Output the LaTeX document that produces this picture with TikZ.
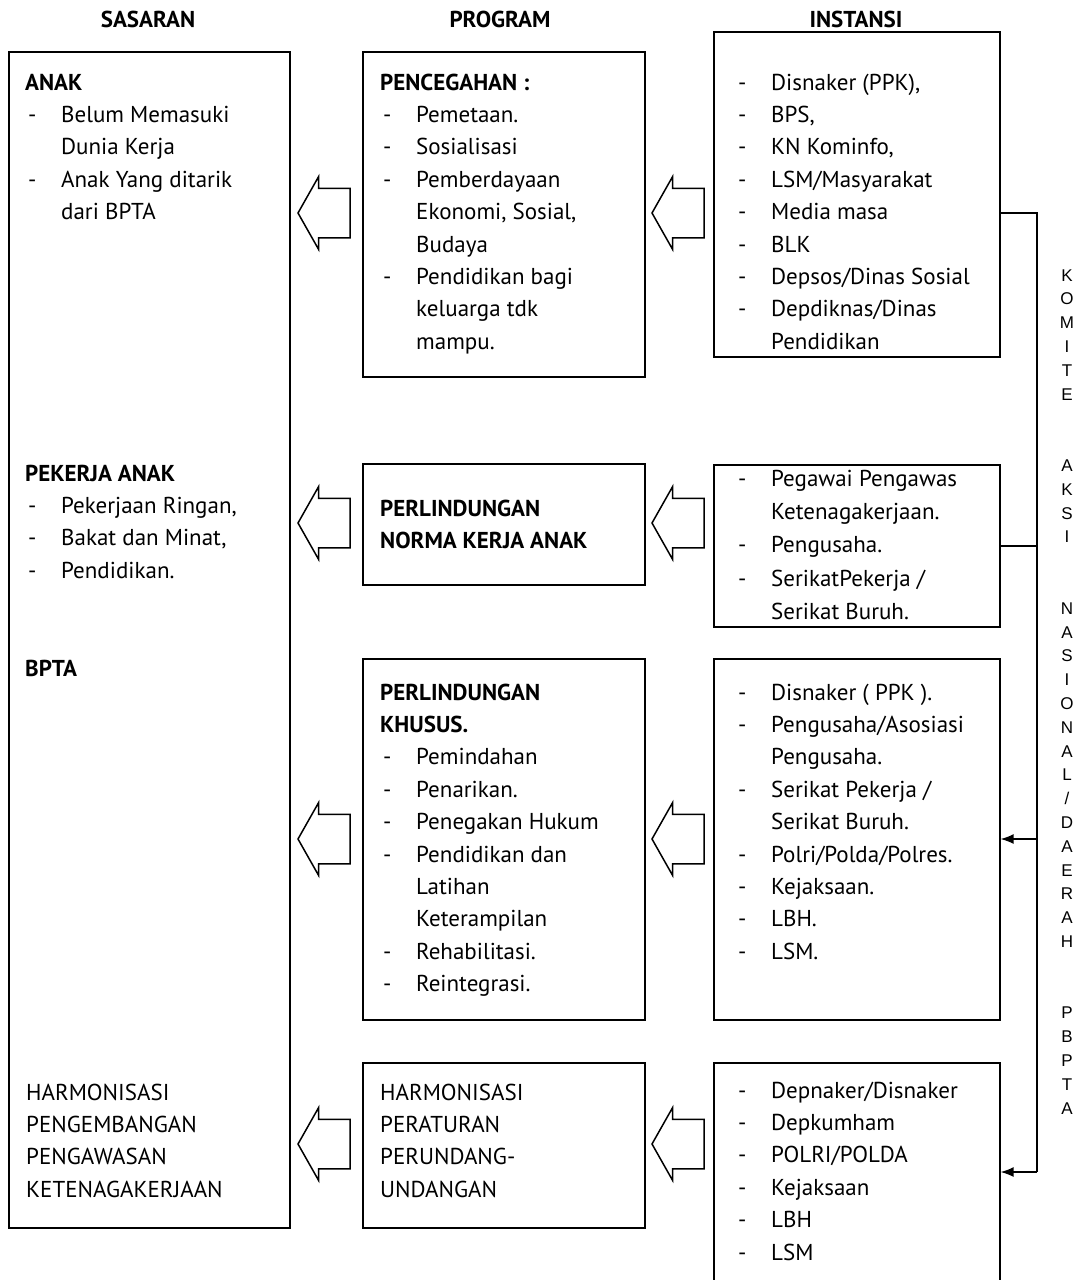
\documentclass[tikz,border=0pt]{standalone}
\usepackage{fontspec}
\setmainfont{PT Sans}
\newfontfamily\hurufarial{Liberation Sans}
\usepackage{tikz}
\usetikzlibrary{shapes}
\usetikzlibrary{shapes.arrows}
\usetikzlibrary{arrows.meta}
\newcommand{\hurufteks}{\fontsize{23}{32.4}\selectfont}
\newcommand{\butir}{\hspace*{3pt}\makebox[33pt][l]{-}}
\newcommand{\lanjut}{\hspace*{36pt}}
\tikzstyle{kotak}=[draw,line width=1.6pt,inner sep=0pt,anchor=north west]
\tikzstyle{teks}=[anchor=north west,inner sep=0pt,align=left,font=\hurufteks]
\tikzstyle{judul}=[anchor=base,inner sep=0pt,font=\hurufteks\bfseries]
\tikzstyle{blokpanah}=[draw,line width=1.5pt,single arrow,shape border rotate=180,
minimum height=52pt,inner xsep=0pt,inner ysep=24pt,single arrow head extend=11.5pt,
single arrow tip angle=121]
\tikzstyle{garis}=[line width=1.4pt]
\tikzstyle{panah}=[line width=1.4pt,-{Latex[length=13pt,width=10pt]}]

\begin{document}
\begin{tikzpicture}[x=1pt,y=-1pt]
\useasboundingbox (0,0) rectangle (1081,1280);
\node[judul] (judulsasaran) at (148,27) {SASARAN};
\node[judul] (judulprogram) at (500,27) {PROGRAM};
\node[judul] (judulinstansi) at (856,27) {INSTANSI};
%Kotak sasaran
\node[kotak,minimum width=281pt,minimum height=1176pt] (sasaran) at (8,51) {};
\node[teks] (anak) at (25,67.3) {\strut\textbf{ANAK}\\
\butir Belum Memasuki\\ \lanjut Dunia Kerja\\
\butir Anak Yang ditarik\\ \lanjut dari BPTA};
\node[teks] (pekerja) at (25,458.3) {\strut\textbf{PEKERJA ANAK}\\
\butir Pekerjaan Ringan,\\ \butir Bakat dan Minat,\\ \butir Pendidikan.};
\node[teks] (bpta) at (25,653.3) {\strut\textbf{BPTA}};
\node[teks] (harmonisasi) at (26,1077.3) {\strut HARMONISASI\\ PENGEMBANGAN\\
PENGAWASAN\\ KETENAGAKERJAAN};
%Kotak program
\node[kotak,minimum width=282pt,minimum height=325pt] (prog1) at (362,51) {};
\node[kotak,minimum width=282pt,minimum height=121pt] (prog2) at (362,463) {};
\node[kotak,minimum width=282pt,minimum height=361pt] (prog3) at (362,658) {};
\node[kotak,minimum width=282pt,minimum height=165pt] (prog4) at (362,1062) {};
\node[teks] (pencegahan) at (380,67.3) {\strut\textbf{PENCEGAHAN :}\\
\butir Pemetaan.\\ \butir Sosialisasi\\ \butir Pemberdayaan\\
\lanjut Ekonomi, Sosial,\\ \lanjut Budaya\\ \butir Pendidikan bagi\\
\lanjut keluarga tdk\\ \lanjut mampu.};
\node[teks] (norma) at (380,493.3) {\strut\textbf{PERLINDUNGAN}\\ \textbf{NORMA KERJA ANAK}};
\node[teks] (khusus) at (380,677.3) {\strut\textbf{PERLINDUNGAN}\\ \textbf{KHUSUS.}\\
\butir Pemindahan\\ \butir Penarikan.\\ \butir Penegakan Hukum\\
\butir Pendidikan dan\\ \lanjut Latihan\\ \lanjut Keterampilan\\
\butir Rehabilitasi.\\ \butir Reintegrasi.};
\node[teks] (peraturan) at (380,1077.3) {\strut HARMONISASI\\ PERATURAN\\
PERUNDANG-\\ UNDANGAN};
%Kotak instansi
\node[kotak,minimum width=286pt,minimum height=325pt] (inst1) at (713,31) {};
\node[kotak,minimum width=286pt,minimum height=162pt] (inst2) at (713,464) {};
\node[kotak,minimum width=286pt,minimum height=361pt] (inst3) at (713,658) {};
\node[kotak,minimum width=286pt,minimum height=240pt] (inst4) at (713,1062) {};
\node[teks] (daftar1) at (735,67.3) {\strut\butir Disnaker (PPK),\\ \butir BPS,\\
\butir KN Kominfo,\\ \butir LSM/Masyarakat\\ \butir Media masa\\ \butir BLK\\
\butir Depsos/Dinas Sosial\\ \butir Depdiknas/Dinas\\ \lanjut Pendidikan};
\node[teks,font=\fontsize{23}{33.3}\selectfont] (daftar2) at (735,462.7) {\strut\butir Pegawai Pengawas\\
\lanjut Ketenagakerjaan.\\ \butir Pengusaha.\\ \butir SerikatPekerja /\\
\lanjut Serikat Buruh.};
\node[teks] (daftar3) at (735,677.3) {\strut\butir Disnaker ( PPK ).\\
\butir Pengusaha/Asosiasi\\ \lanjut Pengusaha.\\ \butir Serikat Pekerja /\\
\lanjut Serikat Buruh.\\ \butir Polri/Polda/Polres.\\ \butir Kejaksaan.\\
\butir LBH.\\ \butir LSM.};
\node[teks] (daftar4) at (735,1075.3) {\strut\butir Depnaker/Disnaker\\
\butir Depkumham\\ \butir POLRI/POLDA\\ \butir Kejaksaan\\ \butir LBH\\ \butir LSM};
%Panah blok
\node[blokpanah] (kiri1) at (331,213) {};
\node[blokpanah] (kiri2) at (331,523) {};
\node[blokpanah] (kiri3) at (331,839) {};
\node[blokpanah] (kiri4) at (331,1144) {};
\node[blokpanah] (kanan1) at (685,213) {};
\node[blokpanah] (kanan2) at (685,523) {};
\node[blokpanah] (kanan3) at (685,839) {};
\node[blokpanah] (kanan4) at (685,1144) {};
%Komite
\node[anchor=north,inner sep=0pt,align=center,font=\hurufarial\fontsize{17}{23.8}\selectfont]
(komite) at (1067,264.3) {\strut K\\O\\M\\I\\T\\E\\~\\~\\A\\K\\S\\I\\~\\~\\N\\A\\S\\I\\O\\N\\A\\L\\/\\D\\A\\E\\R\\A\\H\\~\\~\\P\\B\\P\\T\\A};
\coordinate (jalur1) at (1037,213);
\coordinate (jalur2) at (1037,546);
\coordinate (jalur3) at (1037,839);
\coordinate (jalur4) at (1037,1172);
\draw[garis] (inst1.east |- jalur1) -- (jalur1) -- (jalur4);
\draw[garis] (inst2.east |- jalur2) -- (jalur2);
\draw[panah] (jalur3) -- (inst3.east |- jalur3);
\draw[panah] (jalur4) -- (inst4.east |- jalur4);
\end{tikzpicture}
\end{document}
